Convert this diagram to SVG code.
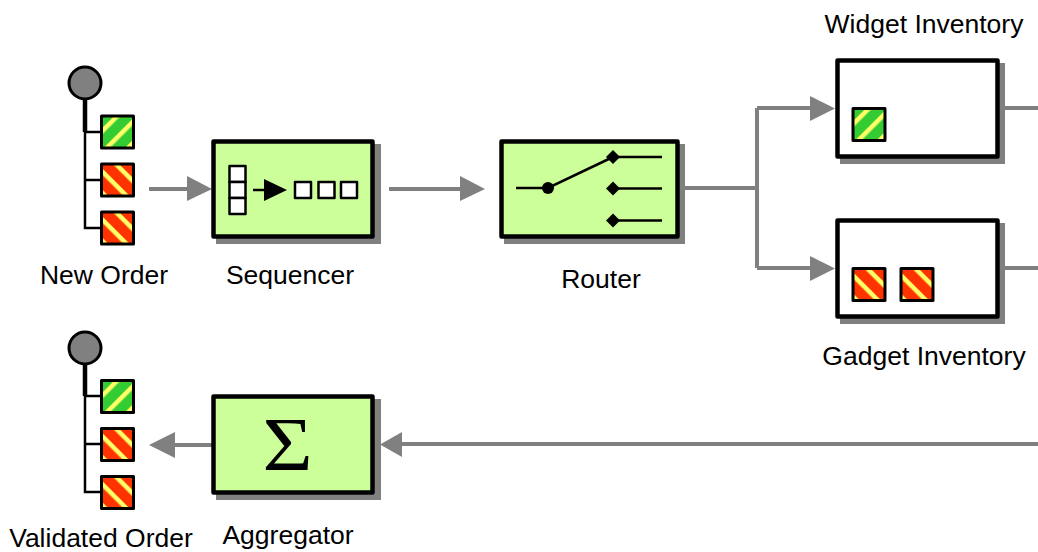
<svg xmlns="http://www.w3.org/2000/svg" width="1038" height="552" viewBox="0 0 1038 552">
<style>
text{font-family:"Liberation Sans",Arial,sans-serif;font-size:26.500px;fill:#000;text-anchor:middle}
.shadow{fill:#808080}
.box{stroke:#000;stroke-width:4.500;stroke-linejoin:round}
.filter{fill:#ccff99}
.store{fill:#fff}
.conn{fill:none;stroke:#808080;stroke-width:4}
.head{fill:#808080}
.tree{fill:none;stroke:#000;stroke-width:2.500}
.stem{fill:none;stroke:#000;stroke-width:4.500}
.dot{fill:#808080;stroke:#000;stroke-width:3}
.tok{stroke:#000;stroke-width:3;stroke-linejoin:round}
.ink{stroke:#000;stroke-width:2.500;fill:none}
.cell{fill:#fff;stroke:#000;stroke-width:2.500;stroke-linejoin:round}
</style>
<defs>
<pattern id="g" patternUnits="userSpaceOnUse" width="15" height="15" patternTransform="rotate(-45 100 115)"><rect width="15" height="15" fill="#33cc33"/><rect y="2" width="15" height="4.500" fill="#ffff66"/></pattern>
<pattern id="r" patternUnits="userSpaceOnUse" width="15" height="15" patternTransform="rotate(45 100 115)"><rect width="15" height="15" fill="#ff3300"/><rect y="2" width="15" height="4.500" fill="#ffff66"/></pattern>
<rect id="tg" class="tok" width="32" height="32" fill="url(#g)"/>
<rect id="tr" class="tok" width="32" height="32" fill="url(#r)"/>
</defs>
<g id="connectors">
<path class="conn" d="M149 189H190"/><path class="head" d="M187 176L212 189L187 201Z"/>
<path class="conn" d="M389 189H463"/><path class="head" d="M460 176L485 189L460 201Z"/>
<path class="conn" d="M685 188H757M757 108V268M757 108H812M757 268H812"/>
<path class="head" d="M810 96L835 108.500L810 121Z"/><path class="head" d="M810 256L835 268.500L810 281Z"/>
<path class="conn" d="M1005 108H1038M1005 268H1038"/>
<path class="conn" d="M1038 444H400"/><path class="head" d="M402 432L380 444.500L402 457Z"/>
<path class="conn" d="M212 445H172"/><path class="head" d="M175 432L149 445L175 458Z"/>
</g>
<g id="new-order">
<path class="stem" d="M85 100V132"/><path class="tree" d="M85 130V228H101M85 132H101M85 180H101"/>
<circle class="dot" cx="85" cy="83" r="16"/>
<use href="#tg" x="101.500" y="116"/><use href="#tr" x="101.500" y="164"/><use href="#tr" x="101.500" y="212"/>
<text x="104" y="284">New Order</text>
</g>
<g id="sequencer">
<rect class="shadow" x="216" y="144" width="165" height="100"/>
<rect class="box filter" x="213.500" y="141.500" width="159" height="95"/>
<rect class="cell" x="229.500" y="166" width="16" height="16"/><rect class="cell" x="229.500" y="182" width="16" height="16"/><rect class="cell" x="229.500" y="198" width="16" height="16"/>
<path class="ink" d="M253 190H268"/><path d="M264 179L287 190L264 201Z"/>
<rect class="cell" x="295" y="182" width="16" height="16"/><rect class="cell" x="318.500" y="182" width="16" height="16"/><rect class="cell" x="341" y="182" width="16" height="16"/>
<text x="290" y="284">Sequencer</text>
</g>
<g id="router">
<rect class="shadow" x="504" y="144" width="181" height="100"/>
<rect class="box filter" x="501.500" y="141.500" width="176" height="95"/>
<path class="ink" d="M516 188H548L613 157M613 157H662M613 188.500H662M613 220.500H662"/>
<circle cx="548" cy="188" r="6"/>
<path d="M613 150L620 157L613 164L606 157Z"/><path d="M613 181.500L620 188.500L613 195.500L606 188.500Z"/><path d="M613 213.500L620 220.500L613 227.500L606 220.500Z"/>
<text x="601" y="288">Router</text>
</g>
<g id="widget-inventory">
<rect class="shadow" x="840" y="63" width="165" height="101"/>
<rect class="box store" x="837.500" y="60.500" width="160" height="96"/>
<use href="#tg" x="853" y="108.500"/>
<text x="924" y="33">Widget Inventory</text>
</g>
<g id="gadget-inventory">
<rect class="shadow" x="840" y="223" width="165" height="101"/>
<rect class="box store" x="837.500" y="220.500" width="160" height="96"/>
<use href="#tr" x="853" y="268.500"/><use href="#tr" x="901" y="268.500"/>
<text x="924" y="365">Gadget Inventory</text>
</g>
<g id="aggregator">
<rect class="shadow" x="216" y="399" width="165" height="101"/>
<rect class="box filter" x="213.500" y="396.500" width="159" height="96"/>
<text transform="translate(287.500 470) scale(1.120 1)" style="font-family:'Liberation Serif','Times New Roman',serif;font-size:77px">Σ</text>
<text x="288" y="544">Aggregator</text>
</g>
<g id="validated-order">
<path class="stem" d="M85 364V396"/><path class="tree" d="M85 394V492H101M85 396H101M85 444H101"/>
<circle class="dot" cx="85" cy="348" r="16"/>
<use href="#tg" x="101.500" y="380.500"/><use href="#tr" x="101.500" y="428.500"/><use href="#tr" x="101.500" y="476.500"/>
<text x="101" y="546.500">Validated Order</text>
</g>
</svg>
